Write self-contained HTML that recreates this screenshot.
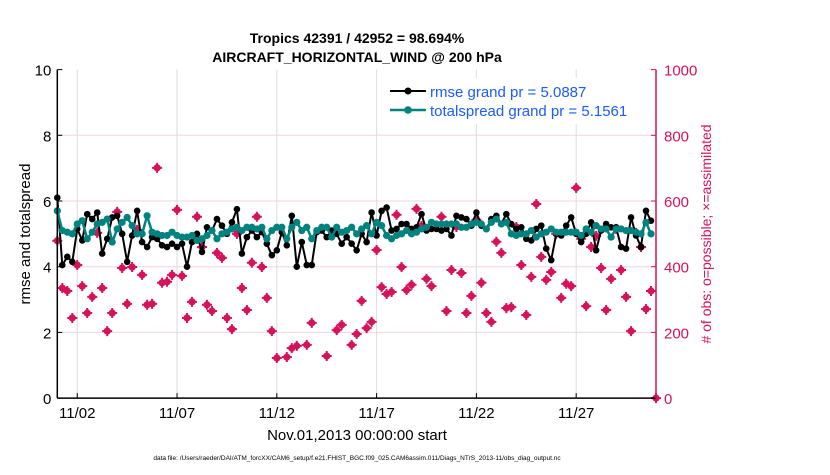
<!DOCTYPE html>
<html><head><meta charset="utf-8"><style>
body{margin:0;background:#fff;font-family:"Liberation Sans",sans-serif}
svg text{font-family:"Liberation Sans",sans-serif}
</style></head><body>
<svg id="chart" width="830" height="470" xmlns="http://www.w3.org/2000/svg">
<g id="grid"></g>
<g id="series"></g>
<g id="axes"></g>
<text x="357" y="43" text-anchor="middle" font-size="14" font-weight="bold">Tropics 42391 / 42952 = 98.694%</text>
<text x="357" y="62" text-anchor="middle" font-size="14" font-weight="bold">AIRCRAFT_HORIZONTAL_WIND @ 200 hPa</text>
<text transform="translate(30,234) rotate(-90)" text-anchor="middle" font-size="15">rmse and totalspread</text>
<text transform="translate(711,234) rotate(-90)" text-anchor="middle" font-size="14" fill="#d6125b"># of obs: o=possible; ×=assimilated</text>
<text x="357" y="440" text-anchor="middle" font-size="15">Nov.01,2013 00:00:00 start</text>
<text x="357" y="460" text-anchor="middle" font-size="6.5">data file: /Users/raeder/DAI/ATM_forcXX/CAM6_setup/f.e21.FHIST_BGC.f09_025.CAM6assim.011/Diags_NTrS_2013-11/obs_diag_output.nc</text>
<g>
<rect x="385" y="78" width="262" height="46" fill="#fff"/>
<line x1="390" y1="91" x2="426" y2="91" stroke="#000" stroke-width="2"/>
<circle cx="408" cy="91" r="3.5" fill="#000"/>
<text x="430" y="97" font-size="15" fill="#1a5cff">rmse grand pr = 5.0887</text>
<line x1="390" y1="110" x2="426" y2="110" stroke="#00827f" stroke-width="2.5"/>
<circle cx="408" cy="110" r="3.8" fill="#00827f"/>
<text x="430" y="116" font-size="15" fill="#1a5cff">totalspread grand pr = 5.1561</text>
</g>
</svg>
<script>
const rmse=[6.1,4.05,4.3,4.15,5.15,4.8,5.6,5.45,5.65,4.4,4.85,5.5,5.55,5.0,4.15,4.95,5.7,4.75,4.6,4.9,4.85,4.65,4.6,4.7,4.6,4.7,4.0,4.75,5.0,4.45,5.2,5.1,5.45,5.25,5.0,5.35,5.75,4.4,4.9,5.1,
4.9,5.05,4.7,4.35,4.5,5.05,4.65,5.55,4.0,4.75,4.05,4.05,5.05,5.1,4.9,5.1,5.0,4.7,4.9,4.7,4.5,5.0,4.75,5.65,4.95,5.7,5.8,5.1,5.15,5.3,5.3,5.15,5.2,5.6,5.1,5.15,5.15,5.1,5.15,4.95,
5.55,5.5,5.45,5.25,5.65,5.25,5.15,5.45,5.55,5.3,5.6,5.3,5.15,5.2,4.85,4.8,5.15,5.25,4.55,4.2,5.0,4.95,5.25,5.5,5.0,4.75,5.0,5.35,4.5,5.1,5.3,5.2,5.2,4.6,4.55,5.5,4.95,4.6,5.7,5.4];
const spread=[5.7,5.1,5.05,5.0,5.3,5.4,4.85,5.05,5.3,5.35,5.45,4.75,5.15,5.35,5.5,5.25,5.0,5.0,5.55,5.05,5.0,4.95,4.95,5.05,4.95,4.9,4.9,4.95,4.8,4.85,4.95,5.1,4.85,5.0,5.05,5.15,5.2,5.1,5.2,5.2,
5.15,5.2,4.85,5.1,5.2,5.2,4.85,5.2,5.35,5.1,5.2,4.85,5.1,5.2,5.2,4.9,5.2,5.05,5.1,5.2,5.0,5.15,5.25,5.0,5.35,5.25,4.95,4.85,4.95,5.0,5.1,5.0,5.05,5.15,5.2,5.35,5.3,5.3,5.3,5.3,
5.3,5.2,5.2,5.3,5.35,5.3,5.15,5.35,5.45,5.3,5.35,5.0,4.95,5.0,5.0,5.1,4.9,5.0,5.05,5.15,5.05,5.05,5.05,5.05,5.05,4.95,5.15,5.05,5.25,5.15,5.15,4.9,5.15,5.15,5.1,5.1,5.05,5.0,5.35,5.0];
const obs=[479,335,326,244,405,341,259,308,503,335,204,259,567,396,287,399,512,375,284,287,701,351,354,375,573,372,244,293,552,460,284,265,442,427,244,210,500,335,268,412,
552,399,305,204,122,null,125,152,159,null,162,229,null,null,128,null,207,223,null,162,195,296,213,232,451,338,317,323,558,399,329,345,576,524,363,341,null,552,265,390,
521,381,259,311,543,351,259,232,476,442,274,277,521,405,253,369,591,430,360,384,500,305,348,341,640,485,280,460,494,396,268,363,515,390,308,204,503,460,271,326,0];
const yTicks=[0,2,4,6,8,10];
const rTicks=[0,200,400,600,800,1000];
const xTickDays=[1,6,11,16,21,26];
const xTickLabels=["11/02","11/07","11/12","11/17","11/22","11/27"];

const X0=57.3,X1=656,Y0=398.1,Y1=69.6,STEP=0.25,DAYS=30;
const xs=d=>X0+(X1-X0)*d/DAYS;
const ys=v=>Y0-(Y0-Y1)*v/10;
const yr=v=>Y0-(Y0-Y1)*v/1000;
const NS="http://www.w3.org/2000/svg";
function mk(tag,attrs,parent){const e=document.createElementNS(NS,tag);for(const k in attrs)e.setAttribute(k,attrs[k]);parent.appendChild(e);return e;}
const grid=document.getElementById('grid'),ser=document.getElementById('series'),ax=document.getElementById('axes');

yTicks.forEach(v=>{
  if(v>0&&v<10){const g=mk('line',{x1:X0,x2:X1,y1:ys(v),y2:ys(v),stroke:'#f0d6e0','stroke-width':1},grid);
  
  }
  const t=mk('text',{x:X0-6,y:ys(v)+6,'text-anchor':'end','font-size':15},ax);t.textContent=v;
  
  
  mk('line',{x1:X0,x2:X0+5,y1:ys(v),y2:ys(v),stroke:'#000'},ax);
});
rTicks.forEach(v=>{
  const t=mk('text',{x:X1+8,y:yr(v)+6,'font-size':15,fill:'#d6125b'},ax);t.textContent=v;
  
  
  mk('line',{x1:X1-5,x2:X1,y1:yr(v),y2:yr(v),stroke:'#d6125b'},ax);
});
xTickDays.forEach((d,i)=>{
  const g=mk('line',{x1:xs(d),x2:xs(d),y1:Y1,y2:Y0,stroke:'#dcdcdc','stroke-width':1},grid);
  
  
  mk('line',{x1:xs(d),x2:xs(d),y1:Y0,y2:Y0-5,stroke:'#000'},ax);
  const t=mk('text',{x:xs(d),y:Y0+20,'text-anchor':'middle','font-size':15},ax);t.textContent=xTickLabels[i];
  
  
});
mk('line',{x1:X0,x2:X0,y1:Y1,y2:Y0,stroke:'#000','stroke-width':1.5},ax);
mk('line',{x1:X0,x2:X1,y1:Y0,y2:Y0,stroke:'#000','stroke-width':1.5},ax);
mk('line',{x1:X1,x2:X1,y1:Y1,y2:Y0,stroke:'#d6125b','stroke-width':1.5},ax);

obs.forEach((v,i)=>{
  if(v===null)return;
  const cx=xs(i*STEP),cy=yr(v);
  const g=mk('g',{},ser);
  
  
  mk('circle',{cx:cx,cy:cy,r:3.6,fill:'#d6125b'},g);
  mk('path',{d:`M${cx-5} ${cy}H${cx+5}M${cx} ${cy-5}V${cy+5}`,stroke:'#d6125b','stroke-width':2},g);
});
function line(arr,color,w,r,name){
  const pts=arr.map((v,i)=>xs(i*STEP).toFixed(1)+','+ys(v).toFixed(1)).join(' ');
  const p=mk('polyline',{points:pts,fill:'none',stroke:color,'stroke-width':w,'stroke-linejoin':'round'},ser);
  
  
  arr.forEach((v,i)=>{const c=mk('circle',{cx:xs(i*STEP),cy:ys(v),r:r,fill:color},ser);
  
  });
}
line(rmse,'#000',2,3.3,'rmse');
line(spread,'#00827f',2.5,3.6,'spread');
</script>
</body></html>
